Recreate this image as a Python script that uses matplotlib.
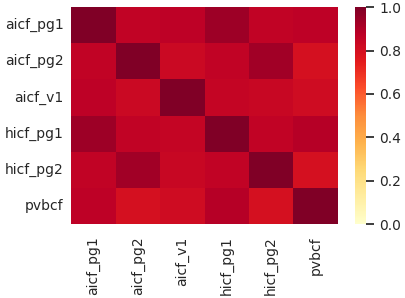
import numpy as np
import pandas as pd
import seaborn as sns
import matplotlib
matplotlib.use("Agg")
import matplotlib.pyplot as plt

sns.set_theme(style="white")
plt.rcParams["xtick.labelsize"] = 10
plt.rcParams["ytick.labelsize"] = 10

names = ["aicf_pg1", "aicf_pg2", "aicf_v1", "hicf_pg1", "hicf_pg2", "pvbcf"]
r_aicf_pg1 = [1.00, 0.86, 0.87, 0.94, 0.86, 0.87]
r_aicf_pg2 = [0.86, 1.00, 0.83, 0.86, 0.93, 0.80]
r_aicf_v1 = [0.87, 0.83, 1.00, 0.85, 0.84, 0.82]
r_hicf_pg1 = [0.94, 0.86, 0.85, 1.00, 0.86, 0.89]
r_hicf_pg2 = [0.86, 0.93, 0.84, 0.86, 1.00, 0.80]
r_pvbcf = [0.87, 0.80, 0.82, 0.89, 0.80, 1.00]

corr = pd.DataFrame([r_aicf_pg1, r_aicf_pg2, r_aicf_v1, r_hicf_pg1, r_hicf_pg2, r_pvbcf],
                    index=names, columns=names)

fig = plt.figure(figsize=(4.05, 2.98), dpi=100)
ax = fig.add_axes([0.176, 0.248, 0.658, 0.728])
cax = fig.add_axes([0.877, 0.248, 0.027, 0.728])
sns.heatmap(corr, cmap="YlOrRd", vmin=0, vmax=1, ax=ax, cbar_ax=cax)
ax.tick_params(axis="x", rotation=90, length=0, pad=9)
ax.tick_params(axis="y", rotation=0, length=0, pad=5.5)

fig.savefig("out.png", dpi=100)
